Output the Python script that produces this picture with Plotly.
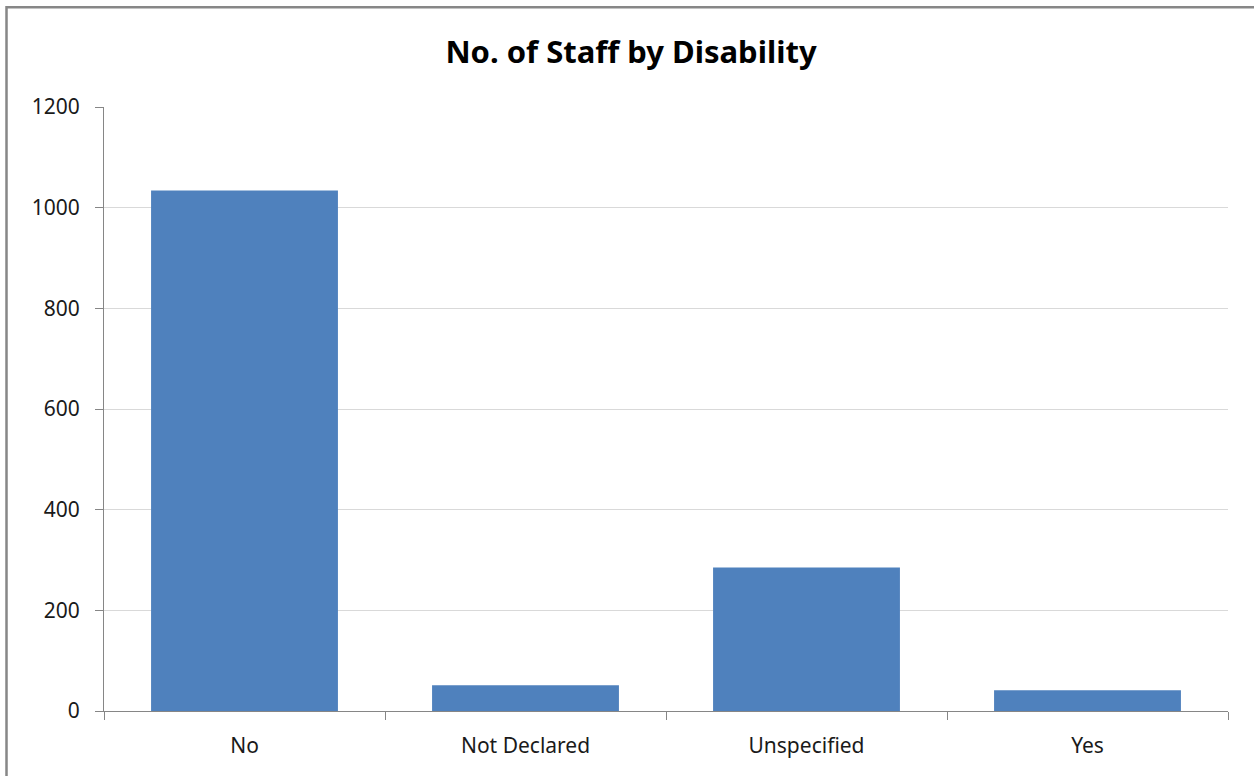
import plotly.graph_objects as go

categories = ["No", "Not Declared", "Unspecified", "Yes"]
staff_counts = [1034, 51, 285, 41]
y_tick_values = [0, 200, 400, 600, 800, 1000, 1200]
y_tick_labels = ["0", "200", "400", "600", "800", "1000", "1200"]

W, H = 1254, 776
ml, mr, mt, mb = 104, 26, 106.5, 64.5
pw = W - ml - mr
ph = H - mt - mb

fig = go.Figure()
fig.add_trace(go.Bar(
    x=categories, y=staff_counts,
    marker=dict(color="#4f81bd", line=dict(width=0)),
    width=0.665,
    hoverinfo="x+y",
))

font_family = "Noto Sans, Open Sans, Liberation Sans, sans-serif"

fig.update_layout(
    width=W, height=H,
    margin=dict(l=ml, r=mr, t=mt, b=mb, pad=0),
    paper_bgcolor="white", plot_bgcolor="white",
    showlegend=False,
    font=dict(family=font_family, size=21, color="#000000"),
    title=dict(
        text="<b>No. of Staff by Disability</b>",
        x=631 / W, xref="container", xanchor="center",
        y=1 - 52 / H, yref="container", yanchor="middle",
        font=dict(size=31, family=font_family, color="#000000"),
    ),
    xaxis=dict(
        type="category",
        showline=True, linecolor="#868686", linewidth=1,
        ticks="outside", ticklen=8, tickcolor="#868686", tickwidth=1,
        tickson="boundaries",
        showgrid=False, zeroline=False,
        ticklabelstandoff=16,
        tickfont=dict(size=21, color="#1a1a1a"),
    ),
    yaxis=dict(
        range=[0, 1200],
        tickvals=y_tick_values, ticktext=y_tick_labels,
        showline=True, linecolor="#868686", linewidth=1,
        ticks="outside", ticklen=8, tickcolor="#868686", tickwidth=1,
        showgrid=True, gridcolor="#d9d9d9", gridwidth=1,
        zeroline=False,
        ticklabelstandoff=11,
        tickfont=dict(size=21, color="#1a1a1a"),
    ),
)

# chart-area border (extends beyond the right/bottom edges like the reference)
x0 = (6.5 - ml) / pw
y1 = (H - mb - 6.5) / ph
fig.add_shape(
    type="rect", xref="paper", yref="paper",
    x0=x0, x1=1.3, y0=-0.3, y1=y1,
    line=dict(color="#878787", width=2.5),
    fillcolor="rgba(0,0,0,0)", layer="above",
)

fig.write_html(
    "out.html",
    config={"displayModeBar": False},
    post_script="document.body.style.margin='0';document.body.style.overflow='hidden';",
)
